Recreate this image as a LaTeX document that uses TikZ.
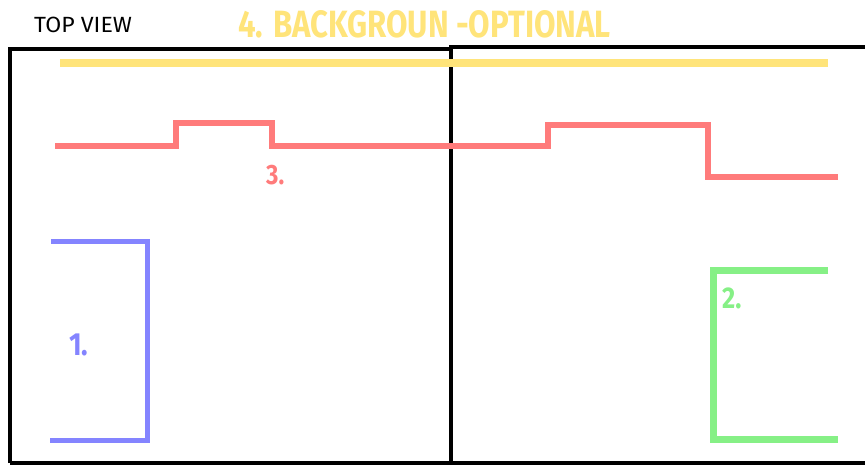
\documentclass[tikz,border=0pt]{standalone}
\usepackage{fontspec}
\setmainfont{Fira Sans}
\definecolor{bgyellow}{HTML}{FFE47A}
\definecolor{trackred}{HTML}{FF7B7B}
\definecolor{sideblue}{HTML}{8484FF}
\definecolor{sidegreen}{HTML}{86F086}
\begin{document}
\begin{tikzpicture}[x=1pt,y=-1pt, line join=miter, line cap=butt,
	boxline/.style={line width=3.5pt,black},
	sketch/.style={line width=#1},
	label/.style={inner sep=0pt,anchor=west}]
			\useasboundingbox[fill=white] (0,0) rectangle (865,467);
			% --- Titel ---
			\node[label,font=\fontsize{22}{22}\selectfont,xscale=1.05] (topview) at (34,25) {TOP VIEW};
			\node[label,text=bgyellow,font=\fontsize{38}{38}\selectfont\bfseries,xscale=0.82] (bgtitle) at (238,24) {4. BACKGROUN -OPTIONAL};
			% --- Rahmen ---
			\draw[boxline] (10,463)--(10,49)--(451,49)--(451,47)--(865,47);
			\draw[boxline] (10,463)--(865,463);
			\draw[boxline] (451,47)--(451,465);
			% --- 4. Hintergrund ---
			\draw[bgyellow,sketch=8pt] (60,63)--(828,63);
			% --- 3. Strecke ---
			\draw[trackred,sketch=6pt] (55,146)--(176,146)--(176,123)--(272,123)--(272,146)
				--(548,146)--(548,125)--(708,125)--(708,177)--(838,177);
			\node[label,text=trackred,font=\fontsize{28}{28}\selectfont\bfseries,xscale=0.85] (three) at (266,175) {3.};
			% --- 1. Seite links ---
			\draw[sideblue,sketch=5pt] (51,241)--(147,241)--(147,440)--(50,440);
			\node[label,text=sideblue,font=\fontsize{32}{32}\selectfont\bfseries,xscale=0.85] (one) at (69,345) {1.};
			% --- 2. Seite rechts ---
			\draw[sidegreen,sketch=7pt] (828,270)--(713,270)--(713,439)--(838,439);
			\node[label,text=sidegreen,font=\fontsize{30}{30}\selectfont\bfseries,xscale=0.85] (two) at (722,298) {2.};
	\end{tikzpicture}
\end{document}
